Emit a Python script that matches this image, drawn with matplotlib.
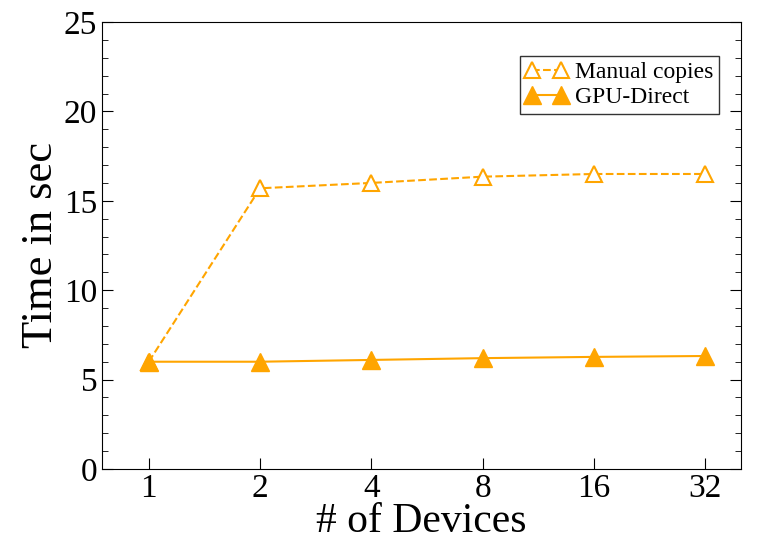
import numpy as np
import matplotlib.pyplot as plt
from matplotlib.ticker import MultipleLocator

devices = ['1', '2', '4', '8', '16', '32']
manual = [6.0, 15.7, 16.0, 16.35, 16.5, 16.5]
gpudirect = [6.0, 6.0, 6.1, 6.2, 6.27, 6.32]

plt.rcParams['font.family'] = ['Liberation Serif', 'DejaVu Serif']
orange = '#FFA500'

fig = plt.figure(figsize=(7.59, 5.41), dpi=100)
ax = fig.add_axes([102/759, 72/541, 639/759, 447/541])

x = np.arange(len(devices))
ax.plot(x, manual, '--', color=orange, lw=1.5, marker='^', ms=12,
        mfc='white', mec=orange, mew=1.5, label='Manual copies')
ax.plot(x, gpudirect, '-', color=orange, lw=1.5, marker='^', ms=13,
        mfc=orange, mec=orange, label='GPU-Direct')

ax.set_xticks(x)
ax.set_xticklabels(devices)
ax.set_xlim(-0.42, 5.32)
ax.set_ylim(0, 25)
ax.yaxis.set_major_locator(MultipleLocator(5))
ax.yaxis.set_minor_locator(MultipleLocator(1))
ax.tick_params(axis='y', which='both', direction='in', right=True, labelsize=24)
ax.tick_params(axis='y', which='major', length=8)
ax.tick_params(axis='y', which='minor', length=4)
ax.tick_params(axis='x', direction='in', length=8, labelsize=24, pad=3)

ax.set_xlabel('# of Devices', fontsize=30, labelpad=-0.5)
ax.set_ylabel('Time in sec', fontsize=32, labelpad=2)

leg = ax.legend(loc='upper right', bbox_to_anchor=(0.966, 0.925), fontsize=17,
                numpoints=2, handlelength=1.8, frameon=True, fancybox=False,
                borderpad=0.25, labelspacing=0.15, handletextpad=0.3,
                borderaxespad=0)
leg.get_frame().set_edgecolor('black')
leg.get_frame().set_linewidth(1.0)

plt.savefig('out.png')
